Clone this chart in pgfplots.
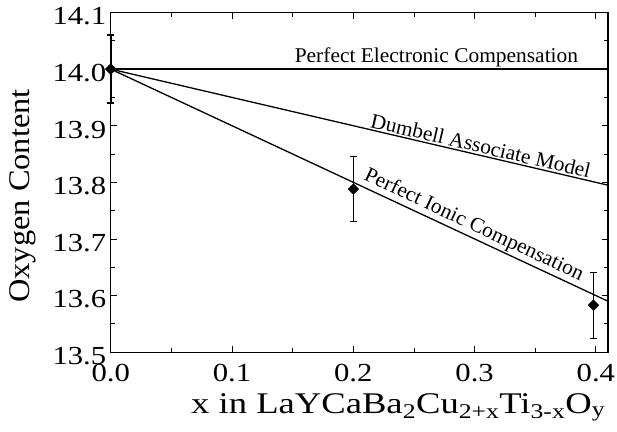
\documentclass[border=0pt]{standalone}
\usepackage{fontspec}
\setmainfont{Liberation Serif}
\newfontfamily\tickfont[FakeStretch=1.18]{Liberation Serif}
\newfontfamily\xlabfont[FakeStretch=1.22]{Liberation Serif}
\newfontfamily\ylabfont[FakeStretch=1.08]{Liberation Serif}
\newfontfamily\annfont[FakeStretch=1.02]{Liberation Serif}
\usepackage{pgfplots}
\pgfplotsset{compat=1.18}
\begin{document}
\begin{tikzpicture}
\begin{axis}[
 scale only axis, width=497pt, height=339.5pt,
 xmin=0, xmax=0.41, ymin=13.5, ymax=14.1,
 xtick={0,0.1,0.2,0.3,0.4}, minor x tick num=1,
 ytick={13.5,13.6,13.7,13.8,13.9,14.0,14.1}, minor y tick num=1,
 xticklabel style={yshift=-8pt, /pgf/number format/.cd, fixed, fixed zerofill, precision=1},
 yticklabel style={yshift=-4pt, xshift=-1pt, /pgf/number format/.cd, fixed, fixed zerofill, precision=1},
 /pgf/number format/assume math mode=true,
 tick align=inside, major tick length=6pt, minor tick length=4pt,
 tick style={black, line width=0.8pt},
 tick label style={font=\tickfont\fontsize{26}{26}\selectfont},
 xlabel style={font=\xlabfont\fontsize{30}{30}\selectfont, at={(ticklabel cs:0.578)}},
 ylabel style={font=\ylabfont\fontsize{30}{30}\selectfont, at={(ticklabel cs:0.46)}},
 xlabel shift=5pt, ylabel shift=10pt,
 xlabel={x in LaYCaBa\textsubscript{2}Cu\textsubscript{2+x}Ti\textsubscript{3-x}O\textsubscript{y}},
 ylabel={Oxygen Content},
 axis line style={line width=1.2pt},
 clip=false,
]
\addplot[black, line width=1.3pt] coordinates {(0,14.0) (0.41,14.0)}
  node[pos=0.655, above, inner sep=1.5pt, font=\annfont\fontsize{21}{21}\selectfont] {Perfect Electronic Compensation};
\addplot[black, line width=1.3pt] coordinates {(0,14.0) (0.41,13.795)}
  node[pos=0.74, sloped, above, inner sep=1.5pt, font=\annfont\fontsize{21}{21}\selectfont] {Dumbell Associate Model};
\addplot[black, line width=1.3pt] coordinates {(0,14.0) (0.41,13.59)}
  node[pos=0.72, sloped, above, inner sep=1.5pt, font=\annfont\fontsize{21}{21}\selectfont] {Perfect Ionic Compensation};
\addplot[black, only marks, mark=square*, mark size=3.8pt, mark options={rotate=45},
  error bars/.cd, y dir=both, y explicit,
  error bar style={line width=2.5pt},
  error mark options={rotate=90, mark size=3.5pt, line width=1.5pt}]
  coordinates {(0,14.0) +- (0,0.06)};
\addplot[black, only marks, mark=square*, mark size=3.8pt, mark options={rotate=45},
  error bars/.cd, y dir=both, y explicit,
  error bar style={line width=1pt},
  error mark options={rotate=90, mark size=3.5pt, line width=1pt}]
  coordinates {(0.2,13.788) +- (0,0.058) (0.398,13.583) +- (0,0.058)};
\end{axis}
\pgfresetboundingbox
\path ([shift={(-110.7pt,-79pt)}]current axis.south west) rectangle ([shift={(9pt,12.5pt)}]current axis.north east);
\end{tikzpicture}
\end{document}
